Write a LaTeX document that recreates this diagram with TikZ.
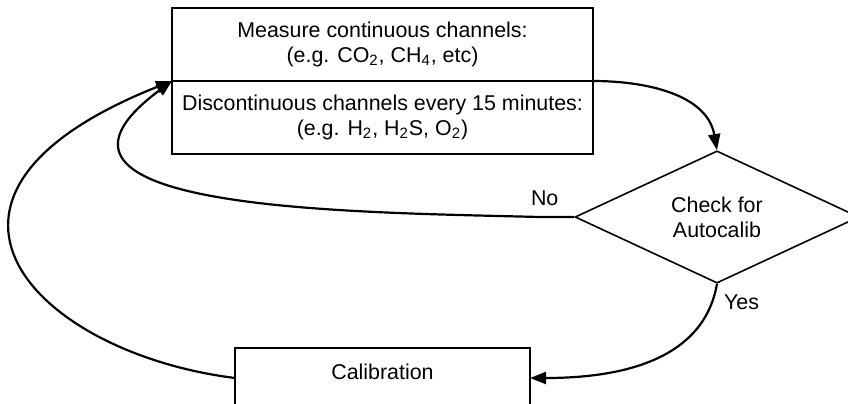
\documentclass[tikz,border=0pt]{standalone}
\usepackage{fontspec}
\setmainfont{Liberation Sans}
\usepackage{tikz}
\usetikzlibrary{arrows.meta}
\usetikzlibrary{shapes.geometric, positioning}

\begin{document}
\begin{tikzpicture}[x=0.5pt, y=0.5pt,
    txt/.style={font=\fontsize{10.7}{12.5}\selectfont},
    box/.style={txt, draw, line width=0.8pt, align=center, outer sep=0pt, minimum width=210.5pt, minimum height=36.5pt},
    flow/.style={line width=1.1pt, -{Triangle[length=8pt, width=6pt]}}]
    \useasboundingbox (0,0) rectangle (848,-403);
    % Measurement boxes
    \node[box] (meas) at (382.5,-44.5) {Measure continuous channels:\\(e.g. CO\textsubscript{2}, CH\textsubscript{4}, etc)};
    \node[box, below=0pt of meas] (disc) {Discontinuous channels every 15 minutes:\\(e.g. H\textsubscript{2}, H\textsubscript{2}S, O\textsubscript{2})};
    % Decision
    \node[txt, draw, diamond, line width=0.8pt, align=center, inner sep=0pt, minimum width=142pt, minimum height=64pt] (chk) at (717,-217) {Check for\\Autocalib};
    % Calibration
    \node[box, minimum width=147.5pt, minimum height=30pt, text height=7.8pt, text depth=6.1pt] (cal) at (382.5,-378) {Calibration};
    % Connectors
    \draw[flow] (disc.north east) to[out=0, in=100] (chk.north);
    \draw[flow] (chk.west) -- node[txt, above=2pt, xshift=-6pt] (no) {No} ++(-35,0)
        .. controls +(-190,5) and +(-175,-130) .. (disc.north west);
    \draw[flow] (chk.south) to[out=-100, in=0] (cal.east);
    \draw[flow] (cal.west) .. controls +(-200,25) and +(-290,-115) .. (disc.north west);
    \node[txt, anchor=north west] (yes) at ([yshift=-2pt]chk.south) {Yes};
\end{tikzpicture}
\end{document}
